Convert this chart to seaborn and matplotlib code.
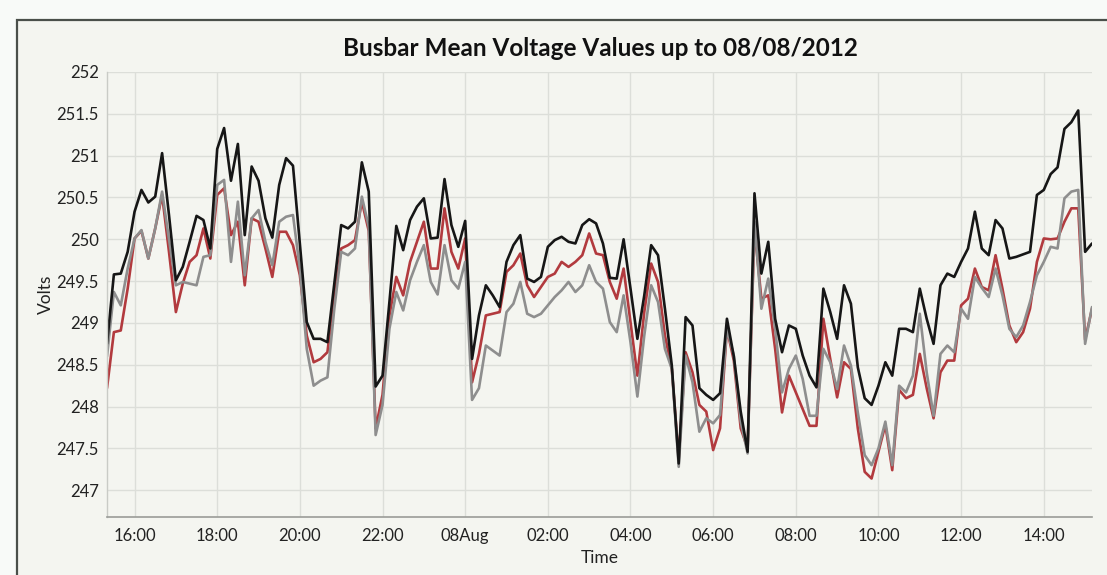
import numpy as np
import pandas as pd
import matplotlib
matplotlib.use("Agg")
import matplotlib.pyplot as plt
import matplotlib.dates as mdates
from matplotlib.ticker import FuncFormatter, MultipleLocator
from matplotlib.patches import Rectangle
import seaborn as sns

# ---- data (10-minute samples from 07/08/2012 15:20) ----
start_time = "2012-08-07 15:20"
n_points = 144

black_values = [
    248.75, 249.58, 249.59, 249.85, 250.33, 250.59, 250.44, 250.51, 251.03, 250.29,
    249.51, 249.67, 249.97, 250.28, 250.23, 249.89, 251.08, 251.33, 250.70, 251.14,
    250.05, 250.87, 250.70, 250.25, 250.02, 250.65, 250.97, 250.88, 249.95, 249.01,
    248.81, 248.81, 248.77, 249.47, 250.17, 250.13, 250.21, 250.92, 250.57, 248.24,
    248.37, 249.25, 250.16, 249.87, 250.23, 250.39, 250.49, 250.01, 250.02, 250.72,
    250.17, 249.91, 250.22, 248.57, 249.09, 249.45, 249.33, 249.19, 249.73, 249.93,
    250.05, 249.53, 249.49, 249.55, 249.91, 249.99, 250.03, 249.97, 249.95, 250.17,
    250.24, 250.19, 249.95, 249.54, 249.53, 250.00, 249.41, 248.81, 249.33, 249.93,
    249.81, 249.17, 248.49, 247.32, 249.07, 248.97, 248.22, 248.14, 248.08, 248.16,
    249.05, 248.60, 247.94, 247.46, 250.55, 249.59, 249.97, 249.05, 248.65, 248.97,
    248.93, 248.61, 248.37, 248.23, 249.41, 249.13, 248.81, 249.45, 249.23, 248.47,
    248.10, 248.02, 248.25, 248.53, 248.37, 248.93, 248.93, 248.89, 249.41, 249.05,
    248.75, 249.45, 249.59, 249.55, 249.73, 249.89, 250.33, 249.89, 249.81, 250.23,
    250.13, 249.77, 249.79, 249.82, 249.85, 250.53, 250.59, 250.78, 250.86, 251.32,
    251.40, 251.54, 249.85, 249.95,
]

gray_values = [
    248.60, 249.37, 249.21, 249.65, 250.01, 250.11, 249.77, 250.13, 250.57, 250.00,
    249.45, 249.49, 249.47, 249.45, 249.79, 249.81, 250.65, 250.71, 249.73, 250.45,
    249.57, 250.25, 250.35, 249.97, 249.69, 250.21, 250.27, 250.29, 249.65, 248.69,
    248.25, 248.31, 248.35, 249.17, 249.85, 249.81, 249.89, 250.51, 250.15, 247.66,
    248.02, 248.93, 249.37, 249.15, 249.51, 249.73, 249.93, 249.49, 249.34, 249.93,
    249.51, 249.41, 249.73, 248.08, 248.22, 248.73, 248.67, 248.61, 249.13, 249.23,
    249.49, 249.11, 249.07, 249.11, 249.21, 249.31, 249.39, 249.49, 249.37, 249.45,
    249.69, 249.49, 249.41, 249.01, 248.89, 249.33, 248.77, 248.12, 248.85, 249.45,
    249.25, 248.69, 248.45, 247.28, 248.61, 248.29, 247.70, 247.86, 247.80, 247.90,
    248.93, 248.61, 247.82, 247.44, 250.21, 249.17, 249.53, 248.93, 248.17, 248.45,
    248.61, 248.33, 247.89, 247.89, 248.69, 248.53, 248.21, 248.73, 248.49, 247.93,
    247.42, 247.30, 247.50, 247.82, 247.30, 248.25, 248.17, 248.37, 249.11, 248.41,
    247.89, 248.63, 248.73, 248.65, 249.17, 249.05, 249.55, 249.42, 249.31, 249.65,
    249.33, 248.93, 248.83, 248.97, 249.25, 249.57, 249.73, 249.91, 249.89, 250.49,
    250.57, 250.59, 248.75, 249.19,
]

red_values = [
    248.22, 248.89, 248.91, 249.41, 250.01, 250.10, 249.77, 250.13, 250.53, 249.85,
    249.13, 249.47, 249.73, 249.81, 250.13, 249.77, 250.53, 250.61, 250.05, 250.21,
    249.45, 250.25, 250.21, 249.89, 249.55, 250.09, 250.09, 249.93, 249.57, 248.85,
    248.53, 248.57, 248.65, 249.33, 249.89, 249.93, 249.99, 250.45, 250.10, 247.74,
    248.14, 249.09, 249.55, 249.33, 249.73, 249.97, 250.21, 249.65, 249.65, 250.37,
    249.85, 249.65, 250.01, 248.29, 248.63, 249.09, 249.11, 249.13, 249.61, 249.69,
    249.83, 249.45, 249.31, 249.43, 249.55, 249.59, 249.73, 249.67, 249.73, 249.81,
    250.07, 249.83, 249.81, 249.49, 249.29, 249.65, 249.01, 248.37, 249.13, 249.71,
    249.49, 248.85, 248.45, 247.38, 248.65, 248.41, 248.02, 247.94, 247.48, 247.74,
    248.93, 248.55, 247.74, 247.50, 250.13, 249.29, 249.33, 248.69, 247.93, 248.37,
    248.17, 247.97, 247.77, 247.77, 249.05, 248.57, 248.11, 248.53, 248.45, 247.74,
    247.22, 247.14, 247.46, 247.78, 247.24, 248.20, 248.10, 248.14, 248.63, 248.22,
    247.86, 248.41, 248.55, 248.55, 249.21, 249.29, 249.65, 249.43, 249.39, 249.81,
    249.41, 248.97, 248.77, 248.89, 249.17, 249.73, 250.01, 250.00, 250.01, 250.21,
    250.37, 250.37, 248.80, 249.17,
]

series_names = ["Phase B", "Phase C", "Phase A"]   # red, gray, black (drawing order)
series_colors = ["#b23a3e", "#8e8e8e", "#161616"]
title_text = "Busbar Mean Voltage Values up to 08/08/2012"
x_label = "Time"
y_label = "Volts"

times = pd.date_range(start_time, periods=n_points, freq="10min")
df = pd.concat([
    pd.DataFrame({"Time": times, "Volts": red_values, "Series": series_names[0]}),
    pd.DataFrame({"Time": times, "Volts": gray_values, "Series": series_names[1]}),
    pd.DataFrame({"Time": times, "Volts": black_values, "Series": series_names[2]}),
], ignore_index=True)

# ---- figure ----
sns.set_theme(style="white")
plt.rcParams["font.family"] = ["Lato", "DejaVu Sans"]

W, H = 1107, 575
fig = plt.figure(figsize=(W / 100, H / 100), dpi=100)
fig.patch.set_facecolor("#f8faf8")
frame = Rectangle((17 / W, -0.1), 1.2, 1 - 20 / H + 0.1, transform=fig.transFigure,
                  facecolor="#f4f5f0", edgecolor="#4a4f4a", linewidth=1.6, zorder=-10)
fig.patches.append(frame)

ax = fig.add_axes([107 / W, 1 - 517 / H, (1092 - 107) / W, (517 - 72) / H])
ax.set_facecolor("#f4f5f0")

sns.lineplot(data=df, x="Time", y="Volts", hue="Series", hue_order=series_names,
             palette=series_colors, linewidth=1.9, legend=False, ax=ax)

ax.set_xlim(times[0], times[-1])
ax.set_ylim(246.68, 252.0)
ax.yaxis.set_major_locator(MultipleLocator(0.5))
ax.yaxis.set_major_formatter(FuncFormatter(lambda v, p: f"{v:g}"))
ax.xaxis.set_major_locator(mdates.HourLocator(byhour=range(0, 24, 2)))

def fmt_time(v, pos):
    d = mdates.num2date(v)
    if d.hour == 0:
        return d.strftime("%d%b")
    return d.strftime("%H:%M")

ax.xaxis.set_major_formatter(FuncFormatter(fmt_time))

ax.grid(True, color="#dcded9", linewidth=1.0)
ax.set_axisbelow(True)
for s in ["top", "right"]:
    ax.spines[s].set_visible(False)
ax.spines["left"].set_color("#c9cbc6")
ax.spines["bottom"].set_color("#9a9c98")
ax.spines["left"].set_linewidth(1.0)
ax.spines["bottom"].set_linewidth(1.2)

ax.tick_params(axis="both", length=0, labelsize=12, colors="#222222")
ax.tick_params(axis="x", pad=8)
ax.tick_params(axis="y", pad=6)

ax.set_xlabel(x_label, fontsize=12.5, color="#222222", labelpad=4)
ax.set_ylabel(y_label, fontsize=12.5, color="#222222", labelpad=2)

fig.text(600 / W, 1 - 48 / H, title_text, ha="center", va="center",
         fontsize=17.5, fontweight="bold", color="#111111")

fig.savefig("out.png", dpi=100, facecolor=fig.get_facecolor())
